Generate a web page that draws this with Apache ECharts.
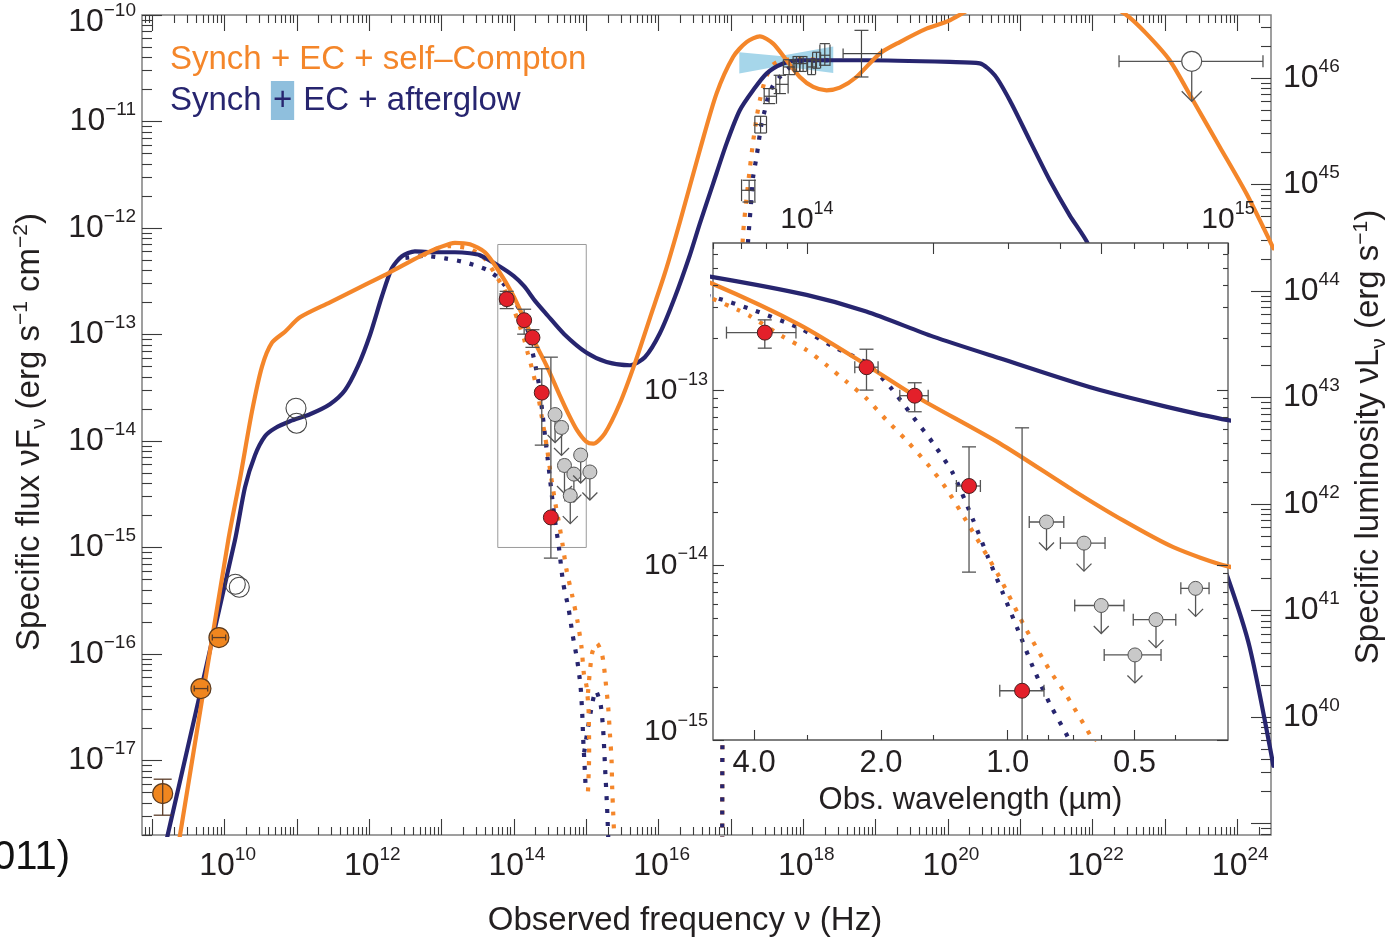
<!DOCTYPE html>
<html><head><meta charset="utf-8">
<script src="https://cdn.jsdelivr.net/npm/echarts@6/dist/echarts.min.js"></script>
<style>html,body{margin:0;padding:0;background:#fff}#c{width:1399px;height:937px}</style>
</head><body><div id="c"></div>
<script>
// ---------------- axis extents (log10 units) ----------------
const X_MIN = 8.858, X_MAX = 24.467;          // log10 observed frequency (Hz)
const Y_MIN = -17.70, Y_MAX = -10.0;          // log10 nu F_nu (erg s^-1 cm^-2)
const LOG_LUM_OFFSET = 56.592;                // log10(4 pi d_L^2): nuL_nu = 4 pi d_L^2 nuF_nu
const INSET_X_MIN = 13.777, INSET_X_MAX = 15.0;
const INSET_Y_MIN = -15.0, INSET_Y_MAX = -12.155;
const C_UM_HZ = 2.998e14;                     // c in micron Hz

// ---------------- tick labels ----------------
const MAIN_X_TICK_EXP = [9,10,11,12,13,14,15,16,17,18,19,20,21,22,23,24];
const MAIN_X_LABEL_EXP = [10,12,14,16,18,20,22,24];
const MAIN_Y_LABEL_EXP = [-17,-16,-15,-14,-13,-12,-11,-10];
const LUM_TICK_EXP = [39,40,41,42,43,44,45,46];
const LUM_LABEL_EXP = [40,41,42,43,44,45,46];
const INSET_Y_LABEL_EXP = [-15,-14,-13];
const INSET_TOP_LABEL_EXP = [14,15];
const INSET_TOP_MID_HZ = [2e14,5e14];
const WAVE_LABEL_UM = [4.0,2.0,1.0,0.5];
const WAVE_MINOR_UM = [3.0,1.5,0.9,0.8,0.7,0.6,0.4];

// ---------------- model curves [log nu, log nuFnu] ----------------
const ORANGE_TOTAL = [[9.30,-18.05],[9.383,-17.703],[10.051,-14.931],[10.213,-14.354],[10.378,-13.725],[10.517,-13.302],[10.655,-13.077],[10.835,-12.974],[11.042,-12.839],[11.457,-12.698],[11.871,-12.557],[12.286,-12.416],[12.700,-12.266],[12.977,-12.181],[13.184,-12.139],[13.391,-12.153],[13.599,-12.228],[13.777,-12.390],[13.983,-12.624],[14.141,-12.853],[14.260,-13.035],[14.458,-13.302],[14.632,-13.570],[14.751,-13.743],[14.870,-13.896],[15.0,-14.006],[15.097,-14.025],[15.257,-13.928],[15.465,-13.646],[15.672,-13.271],[15.879,-12.848],[16.087,-12.425],[16.294,-11.946],[16.570,-11.270],[16.801,-10.738],[17.030,-10.394],[17.216,-10.254],[17.400,-10.200],[17.584,-10.269],[17.769,-10.425],[17.953,-10.582],[18.137,-10.676],[18.322,-10.707],[18.506,-10.682],[18.736,-10.582],[19.058,-10.362],[19.335,-10.254],[19.704,-10.128],[20.026,-10.050],[20.579,-9.843],[21.131,-9.751],[21.684,-9.789],[22.168,-9.892],[22.468,-10.0],[22.744,-10.175],[23.066,-10.425],[23.388,-10.801],[23.759,-11.239],[24.127,-11.677],[24.50,-12.19]];
const NAVY_TOTAL = [[9.10,-18.04],[9.213,-17.70],[10.143,-14.932],[10.282,-14.434],[10.420,-14.134],[10.558,-13.956],[10.696,-13.881],[10.904,-13.815],[11.180,-13.749],[11.456,-13.655],[11.664,-13.524],[11.843,-13.298],[12.009,-13.007],[12.175,-12.641],[12.313,-12.378],[12.452,-12.265],[12.631,-12.219],[12.908,-12.228],[13.184,-12.228],[13.391,-12.237],[13.530,-12.256],[13.777,-12.350],[13.999,-12.452],[14.141,-12.547],[14.300,-12.691],[14.458,-12.815],[14.696,-12.997],[15.0,-13.169],[15.281,-13.258],[15.603,-13.289],[15.810,-13.214],[16.018,-12.989],[16.225,-12.651],[16.432,-12.256],[16.570,-11.959],[16.754,-11.583],[16.939,-11.208],[17.123,-10.895],[17.307,-10.707],[17.492,-10.550],[17.722,-10.456],[17.953,-10.425],[18.875,-10.425],[20.026,-10.441],[20.440,-10.454],[20.648,-10.566],[20.855,-10.801],[21.131,-11.177],[21.408,-11.552],[21.684,-11.881],[21.933,-12.144],[22.790,-13.430],[23.343,-14.322],[23.868,-15.280],[24.172,-15.937],[24.50,-17.05]];
const NAVY_SYNCH = [[12.50,-12.28],[12.770,-12.262],[13.046,-12.285],[13.322,-12.322],[13.622,-12.391],[13.777,-12.465],[13.872,-12.538],[13.983,-12.643],[14.062,-12.748],[14.141,-12.843],[14.197,-12.978],[14.252,-13.150],[14.300,-13.302],[14.347,-13.475],[14.395,-13.742],[14.430,-13.953],[14.466,-14.163],[14.502,-14.374],[14.537,-14.584],[14.577,-14.794],[14.620,-14.986],[14.681,-15.333],[14.756,-15.577],[14.811,-15.818],[14.875,-16.059],[14.921,-16.303],[14.944,-16.554],[14.958,-16.801],[14.977,-17.048],[14.995,-17.296]];
const NAVY_SYNCH_B = [[14.971,-16.924],[15.06,-16.55],[15.133,-16.347],[15.198,-16.472],[15.234,-16.716],[15.262,-17.092],[15.289,-17.455],[15.305,-17.75]];
const NAVY_EC = [[16.880,-17.75],[16.883,-16.810],[16.957,-15.496],[17.068,-13.805],[17.178,-12.678],[17.238,-12.115],[17.285,-11.709],[17.307,-11.521],[17.354,-11.333],[17.423,-11.020],[17.469,-10.895],[17.515,-10.770],[17.584,-10.660],[17.676,-10.582],[17.791,-10.503],[17.907,-10.456],[18.045,-10.432],[18.368,-10.425]];
const ORANGE_SYNCH = [[12.75,-12.26],[12.839,-12.215],[13.115,-12.170],[13.391,-12.195],[13.599,-12.290],[13.777,-12.475],[13.836,-12.538],[13.864,-12.572],[13.943,-12.691],[13.999,-12.767],[14.046,-12.853],[14.094,-12.949],[14.141,-13.044],[14.189,-13.169],[14.236,-13.284],[14.292,-13.437],[14.330,-13.557],[14.379,-13.748],[14.456,-14.062],[14.515,-14.341],[14.577,-14.603],[14.613,-14.731],[14.676,-14.986],[14.728,-15.214],[14.806,-15.452],[14.880,-15.696],[14.935,-15.940],[14.967,-16.184],[15.004,-16.303],[15.030,-16.50],[15.036,-16.622],[15.040,-16.942],[15.023,-17.308]];
const ORANGE_SYNCH_B = [[15.024,-16.366],[15.080,-15.996],[15.147,-15.900],[15.220,-16.009],[15.267,-16.254],[15.303,-16.498],[15.327,-16.747],[15.350,-16.998],[15.358,-17.242],[15.372,-17.484],[15.389,-17.75]];
const ORANGE_EC = [[16.880,-17.75],[16.883,-16.810],[16.930,-15.496],[17.027,-13.805],[17.124,-12.678],[17.169,-12.053],[17.216,-11.72],[17.262,-11.44],[17.307,-11.19],[17.354,-10.97],[17.400,-10.80],[17.469,-10.62],[17.561,-10.48],[17.676,-10.43],[17.814,-10.419],[18.022,-10.416],[18.368,-10.425]];

// ---------------- X-ray spectral band (bow-tie) ----------------
const BOWTIE_LOGNU = [17.116,17.678,18.415];
const BOWTIE_LOGF_HI = [-10.350,-10.385,-10.295];
const BOWTIE_LOGF_LO = [-10.550,-10.480,-10.545];

// ---------------- data points ----------------
const NIR_LOGNU    = [13.900,14.1415,14.256,14.385,14.511];
const NIR_LOGF     = [-12.668,-12.866,-13.029,-13.546,-14.718];
const NIR_LOGNU_LO = [13.809,14.1137,14.2206,14.355,14.458];
const NIR_LOGNU_HI = [13.974,14.169,14.288,14.412,14.563];
const NIR_LOGF_LO  = [-12.757,-12.997,-13.121,-14.039,-15.10];
const NIR_LOGF_HI  = [-12.595,-12.763,-12.955,-13.322,-13.213];

const OPT_UL_LOGNU    = [14.569,14.658,14.699,14.829,14.779,14.923,15.05];
const OPT_UL_LOGF     = [-13.752,-13.873,-14.230,-14.311,-14.513,-14.132,-14.291];
const OPT_UL_LOGNU_LO = [14.528,14.602,14.636,14.775,14.706,14.888,15.00];
const OPT_UL_LOGNU_HI = [14.610,14.708,14.753,14.876,14.841,14.955,15.10];

const RADIO_LOGNU    = [9.144,9.673,9.922];
const RADIO_LOGF     = [-17.311,-16.325,-15.846];
const RADIO_LOGNU_LO = [9.144,9.58,9.83];
const RADIO_LOGNU_HI = [9.144,9.766,10.015];
const RADIO_LOGF_LO  = [-17.514,-16.325,-15.846];
const RADIO_LOGF_HI  = [-17.176,-16.325,-15.846];

const OPEN_LOGNU = [10.148,10.203,10.987,10.995];
const OPEN_LOGF  = [-15.345,-15.374,-13.693,-13.833];

const GAMMA_UL_LOGNU = [23.371], GAMMA_UL_LOGF = [-10.435], GAMMA_UL_LOGNU_LO = [22.366], GAMMA_UL_LOGNU_HI = [24.356];

const XRAY_LOGNU    = [17.252,17.410,17.528,17.676,17.805,17.907,17.998,18.114,18.183,18.298];
const XRAY_LOGF     = [-11.646,-11.029,-10.763,-10.651,-10.488,-10.456,-10.456,-10.488,-10.425,-10.378];
const XRAY_LOGNU_LO = [17.147,17.331,17.46,17.621,17.725,17.86,17.95,18.06,18.13,18.23];
const XRAY_LOGNU_HI = [17.331,17.492,17.63,17.791,17.885,17.955,18.05,18.17,18.24,18.37];
const XRAY_LOGF_LO  = [-11.756,-11.108,-10.832,-10.738,-10.56,-10.53,-10.53,-10.56,-10.50,-10.472];
const XRAY_LOGF_HI  = [-11.552,-10.951,-10.691,-10.566,-10.42,-10.39,-10.39,-10.42,-10.35,-10.269];

const HARDX_LOGNU = [18.805], HARDX_LOGF = [-10.362], HARDX_LOGNU_LO = [18.551], HARDX_LOGNU_HI = [19.082], HARDX_LOGF_LO = [-10.582], HARDX_LOGF_HI = [-10.144];

// ---------------- styling ----------------
const FONT = '"Liberation Sans", Arial, Helvetica, sans-serif';
const TXT = '#231f20';
const ORANGE = '#f4862a';
const NAVY = '#27256f';
const RED = '#e3202a';
const GRAY = '#c9c9c9';
const TICK = '#3a3a3a';

function minorVals(nFrom, nTo, lo, hi) {
  const out = [];
  for (let n = nFrom; n <= nTo; n++) for (let k = 2; k <= 9; k++) {
    const v = n + Math.log10(k);
    if (v > lo + 1e-6 && v < hi - 1e-6) out.push(v);
  }
  return out;
}
function rows(...cols) { return cols[0].map((_, i) => cols.map(c => c[i])); }
function expRich(bs, ss, pw, raise) {
  const sp = Math.round(ss * 0.95);
  const r = raise || 0;
  return {
    b: {fontFamily: FONT, fontSize: bs, lineHeight: bs, color: TXT, verticalAlign: 'bottom'},
    s: {fontFamily: FONT, fontSize: ss, lineHeight: ss, color: TXT, verticalAlign: 'bottom', padding: [0,0,sp,0]},
    p: {fontFamily: FONT, fontSize: ss, lineHeight: ss, width: pw, verticalAlign: 'bottom'},
    z: {fontFamily: FONT, fontSize: 4, lineHeight: 14},
    b2: {fontFamily: FONT, fontSize: bs, lineHeight: bs, color: TXT, verticalAlign: 'bottom', padding: [0,0,r,0]},
    s2: {fontFamily: FONT, fontSize: ss, lineHeight: ss, color: TXT, verticalAlign: 'bottom', padding: [0,0,r + sp,0]}
  };
}
const expStr = e => (e < 0 ? '\u2212' + Math.abs(e) : String(e));

function tickAxis(o) {
  const a = {
    gridIndex: o.grid, type: 'value', position: o.pos, min: o.min, max: o.max, z: o.z || 0,
    axisLine: {show: false, onZero: false}, splitLine: {show: false},
    axisTick: {show: true, inside: true, length: o.len, lineStyle: {color: TICK, width: 1.1}, customValues: o.ticks},
    axisLabel: {show: false}
  };
  if (o.labels) a.axisLabel = Object.assign({show: true, customValues: o.labels}, o.labelCfg);
  if (o.name) Object.assign(a, o.name);
  return a;
}

const mainXLabel = {margin: 15, formatter: v => '{p| }{b|10}{s|' + expStr(Math.round(v)) + '}', rich: expRich(32, 19, 6)};
// the top label (10^-10) sits a little lower than its tick (a spacer line above it)
const mainYLabel = {margin: 6, formatter: v => { const e = Math.round(v); return (e === -10 ? '{z| }\n' : '') + '{b|10}{s|' + expStr(e) + '}'; }, rich: expRich(32, 19, 0)};
const lumLabel = {margin: 12, formatter: v => '{b|10}{s|' + expStr(Math.round(v)) + '}', rich: expRich(32, 19, 0)};
const insetYLabel = {margin: 5, formatter: v => { const e = Math.round(v); return e === -15 ? '{b2|10}{s2|' + expStr(e) + '}' : '{b|10}{s|' + expStr(e) + '}'; }, rich: expRich(30, 18, 0, 8)};
const insetTopLabel = {margin: 8, formatter: v => '{b|10}{s|' + expStr(Math.round(v)) + '}', rich: expRich(30, 18, 0)};
const waveLabel = {margin: 8, fontFamily: FONT, fontSize: 31, color: TXT, formatter: v => (C_UM_HZ / Math.pow(10, v)).toFixed(1)};

const titleRich = {
  t: {fontFamily: FONT, fontSize: 33, lineHeight: 33, color: TXT, verticalAlign: 'bottom', padding: [0,0,4,0]},
  u: {fontFamily: FONT, fontSize: 21, lineHeight: 21, color: TXT, verticalAlign: 'bottom'},
  e: {fontFamily: FONT, fontSize: 21, lineHeight: 21, color: TXT, verticalAlign: 'bottom', padding: [0,0,18,0]}
};

const xAxes = [
  tickAxis({grid: 0, pos: 'bottom', min: X_MIN, max: X_MAX, len: 16, ticks: MAIN_X_TICK_EXP, labels: MAIN_X_LABEL_EXP, labelCfg: mainXLabel,
    name: {name: 'Observed frequency \u03bd (Hz)', nameLocation: 'middle', nameGap: 69, nameTextStyle: {fontFamily: FONT, fontSize: 33, color: TXT, padding: [0,43,0,0]}}}),
  tickAxis({grid: 0, pos: 'bottom', min: X_MIN, max: X_MAX, len: 8, ticks: minorVals(8, 24, X_MIN, X_MAX)}),
  tickAxis({grid: 0, pos: 'top', min: X_MIN, max: X_MAX, len: 16, ticks: MAIN_X_TICK_EXP}),
  tickAxis({grid: 0, pos: 'top', min: X_MIN, max: X_MAX, len: 8, ticks: minorVals(8, 24, X_MIN, X_MAX)}),
  tickAxis({grid: 1, pos: 'bottom', min: INSET_X_MIN, max: INSET_X_MAX, len: 10, z: 7, ticks: WAVE_LABEL_UM.map(l => Math.log10(C_UM_HZ / l)), labels: WAVE_LABEL_UM.map(l => Math.log10(C_UM_HZ / l)), labelCfg: waveLabel,
    name: {name: 'Obs. wavelength (\u00b5m)', nameLocation: 'middle', nameGap: 45, nameTextStyle: {fontFamily: FONT, fontSize: 31, color: TXT}}}),
  tickAxis({grid: 1, pos: 'bottom', min: INSET_X_MIN, max: INSET_X_MAX, len: 5, z: 7, ticks: WAVE_MINOR_UM.map(l => Math.log10(C_UM_HZ / l))}),
  tickAxis({grid: 1, pos: 'top', min: INSET_X_MIN, max: INSET_X_MAX, len: 11, z: 7, ticks: INSET_TOP_LABEL_EXP.concat(INSET_TOP_MID_HZ.map(Math.log10)), labels: INSET_TOP_LABEL_EXP, labelCfg: insetTopLabel}),
  tickAxis({grid: 1, pos: 'top', min: INSET_X_MIN, max: INSET_X_MAX, len: 6, z: 7, ticks: minorVals(13, 14, INSET_X_MIN, INSET_X_MAX).filter(v => !INSET_TOP_MID_HZ.some(h => Math.abs(Math.log10(h) - v) < 1e-6))})
];
const yAxes = [
  tickAxis({grid: 0, pos: 'left', min: Y_MIN, max: Y_MAX, len: 20, ticks: MAIN_Y_LABEL_EXP, labels: MAIN_Y_LABEL_EXP, labelCfg: mainYLabel,
    name: {name: '{t|Specific flux \u03bdF}{u|\u03bd}{t| (erg s}{e|\u22121}{t| cm}{e|\u22122}{t|)}', nameLocation: 'middle', nameGap: 92, nameRotate: 90, nameTextStyle: {rich: titleRich, padding: [0,14,0,0]}}}),
  tickAxis({grid: 0, pos: 'left', min: Y_MIN, max: Y_MAX, len: 10, ticks: minorVals(-18, -11, Y_MIN, Y_MAX)}),
  tickAxis({grid: 0, pos: 'right', min: Y_MIN + LOG_LUM_OFFSET, max: Y_MAX + LOG_LUM_OFFSET, len: 20, ticks: LUM_TICK_EXP, labels: LUM_LABEL_EXP, labelCfg: lumLabel,
    name: {name: '{t|Specific luminosity \u03bdL}{u|\u03bd}{t| (erg s}{e|\u22121}{t|)}', nameLocation: 'middle', nameGap: 79, nameRotate: 90, nameTextStyle: {rich: titleRich, padding: [0,24,0,0]}}}),
  tickAxis({grid: 0, pos: 'right', min: Y_MIN + LOG_LUM_OFFSET, max: Y_MAX + LOG_LUM_OFFSET, len: 10, ticks: minorVals(38, 46, Y_MIN + LOG_LUM_OFFSET, Y_MAX + LOG_LUM_OFFSET)}),
  tickAxis({grid: 1, pos: 'left', min: INSET_Y_MIN, max: INSET_Y_MAX, len: 11, z: 7, ticks: INSET_Y_LABEL_EXP, labels: INSET_Y_LABEL_EXP, labelCfg: insetYLabel}),
  tickAxis({grid: 1, pos: 'left', min: INSET_Y_MIN, max: INSET_Y_MAX, len: 5, z: 7, ticks: minorVals(-16, -13, INSET_Y_MIN, INSET_Y_MAX)}),
  tickAxis({grid: 1, pos: 'right', min: INSET_Y_MIN, max: INSET_Y_MAX, len: 11, z: 7, ticks: INSET_Y_LABEL_EXP}),
  tickAxis({grid: 1, pos: 'right', min: INSET_Y_MIN, max: INSET_Y_MAX, len: 5, z: 7, ticks: minorVals(-16, -13, INSET_Y_MIN, INSET_Y_MAX)})
];

function lineS(data, color, dotted, xi, yi, z) {
  return {type: 'line', data, xAxisIndex: xi, yAxisIndex: yi, z, symbol: 'none', showSymbol: false, smooth: 0.25, silent: true, clip: true,
    lineStyle: dotted ? {color, width: 4.2, type: [4, 9], cap: 'butt'} : {color, width: 4.2, cap: 'round', join: 'round'}};
}
function seg(a, b, st) { return {type: 'line', shape: {x1: a[0], y1: a[1], x2: b[0], y2: b[1]}, style: st}; }
// rows: [logNu, logF, logNuLo, logNuHi, logFLo, logFHi]
function pointS(data, st, xi, yi, z) {
  return {type: 'custom', coordinateSystem: 'cartesian2d', xAxisIndex: xi, yAxisIndex: yi, z, silent: true, clip: true,
    encode: {x: 0, y: 1}, data,
    renderItem: (params, api) => {
      const x = api.value(0), y = api.value(1);
      const c = api.coord([x, y]);
      const ls = {stroke: st.errColor || '#444', lineWidth: st.errWidth || 1.3, fill: null};
      const bars = [];
      const xl = api.value(2), xh = api.value(3), yl = api.value(4), yh = api.value(5);
      const pxL = api.coord([xl, y]), pxH = api.coord([xh, y]), pyL = api.coord([x, yl]), pyH = api.coord([x, yh]);
      // box-style caps: each cap spans the other error bar's extent
      const capX = st.box ? Math.abs(pyL[1] - pyH[1]) / 2 : st.capX;
      const capY = st.box ? Math.abs(pxH[0] - pxL[0]) / 2 : st.capY;
      if (xh > xl) {
        bars.push(seg(pxL, pxH, ls), seg([pxL[0], c[1] - capX], [pxL[0], c[1] + capX], ls), seg([pxH[0], c[1] - capX], [pxH[0], c[1] + capX], ls));
      }
      if (yh > yl) {
        bars.push(seg(pyL, pyH, ls), seg([c[0] - capY, pyL[1]], [c[0] + capY, pyL[1]], ls), seg([c[0] - capY, pyH[1]], [c[0] + capY, pyH[1]], ls));
      }
      const kids = [];
      if (st.arrow) {
        const L = st.arrow, h = st.head;
        kids.push(seg(c, [c[0], c[1] + L], ls));
        kids.push({type: 'polyline', shape: {points: [[c[0] - h, c[1] + L - h], [c[0], c[1] + L], [c[0] + h, c[1] + L - h]]}, style: {stroke: ls.stroke, lineWidth: ls.lineWidth, fill: null}});
      }
      const circ = st.r ? [{type: 'circle', shape: {cx: c[0], cy: c[1], r: st.r}, style: {fill: st.fill, stroke: st.stroke, lineWidth: st.lw || 1}}] : [];
      const children = st.errOnTop ? kids.concat(circ, bars) : bars.concat(kids, circ);
      return {type: 'group', children};
    }};
}

const nirRows = rows(NIR_LOGNU, NIR_LOGF, NIR_LOGNU_LO, NIR_LOGNU_HI, NIR_LOGF_LO, NIR_LOGF_HI);
const ulRows = rows(OPT_UL_LOGNU, OPT_UL_LOGF, OPT_UL_LOGNU_LO, OPT_UL_LOGNU_HI, OPT_UL_LOGF, OPT_UL_LOGF);
const radioRows = rows(RADIO_LOGNU, RADIO_LOGF, RADIO_LOGNU_LO, RADIO_LOGNU_HI, RADIO_LOGF_LO, RADIO_LOGF_HI);
const openRows = rows(OPEN_LOGNU, OPEN_LOGF, OPEN_LOGNU, OPEN_LOGNU, OPEN_LOGF, OPEN_LOGF);
const gammaRows = rows(GAMMA_UL_LOGNU, GAMMA_UL_LOGF, GAMMA_UL_LOGNU_LO, GAMMA_UL_LOGNU_HI, GAMMA_UL_LOGF, GAMMA_UL_LOGF);
const xrayRows = rows(XRAY_LOGNU, XRAY_LOGF, XRAY_LOGNU_LO, XRAY_LOGNU_HI, XRAY_LOGF_LO, XRAY_LOGF_HI);
const hardxRows = rows(HARDX_LOGNU, HARDX_LOGF, HARDX_LOGNU_LO, HARDX_LOGNU_HI, HARDX_LOGF_LO, HARDX_LOGF_HI);

const NIR_ST = {r: 7.5, fill: RED, stroke: '#4a2020', lw: 1, capX: 6, capY: 7, errColor: '#555', errWidth: 1.3};
const UL_ST = {r: 7, fill: GRAY, stroke: '#555', lw: 1, capX: 6, capY: 6, errColor: '#555', errWidth: 1.3, arrow: 28, head: 7.5};

const series = [
  // ----- main panel -----
  {type: 'custom', coordinateSystem: 'cartesian2d', xAxisIndex: 0, yAxisIndex: 0, z: 2, silent: true,
    data: [0], renderItem: (params, api) => {
      const up = BOWTIE_LOGNU.map((v, i) => api.coord([v, BOWTIE_LOGF_HI[i]]));
      const lo = BOWTIE_LOGNU.map((v, i) => api.coord([v, BOWTIE_LOGF_LO[i]])).reverse();
      return {type: 'polygon', shape: {points: up.concat(lo)}, style: {fill: '#a6d6ea', stroke: null}};
    }},
  lineS(NAVY_SYNCH, NAVY, true, 0, 0, 2),
  lineS(NAVY_SYNCH_B, NAVY, true, 0, 0, 2),
  lineS(ORANGE_SYNCH, ORANGE, true, 0, 0, 2),
  lineS(ORANGE_SYNCH_B, ORANGE, true, 0, 0, 2),
  lineS(ORANGE_EC, ORANGE, true, 0, 0, 2),
  lineS(NAVY_EC, NAVY, true, 0, 0, 2),
  lineS(NAVY_TOTAL, NAVY, false, 0, 0, 2),
  lineS(ORANGE_TOTAL, ORANGE, false, 0, 0, 2),
  {type: 'custom', coordinateSystem: 'cartesian2d', xAxisIndex: 0, yAxisIndex: 0, z: 2, silent: true,
    data: [[INSET_X_MIN, INSET_Y_MIN, INSET_X_MAX, INSET_Y_MAX]], renderItem: (params, api) => {
      const p0 = api.coord([api.value(0), api.value(3)]), p1 = api.coord([api.value(2), api.value(1)]);
      return {type: 'rect', shape: {x: p0[0], y: p0[1], width: p1[0] - p0[0], height: p1[1] - p0[1]}, style: {fill: null, stroke: '#9a9a9a', lineWidth: 1}};
    }},
  pointS(xrayRows, {box: true, errColor: '#444', errWidth: 1.2}, 0, 0, 3),
  pointS(hardxRows, {capX: 5, capY: 7, errColor: '#444', errWidth: 1.2}, 0, 0, 3),
  pointS(radioRows, {r: 10, fill: '#f0861f', stroke: '#5b3a1e', lw: 1.2, capX: 3, capY: 9, errColor: '#5a3c28', errWidth: 1.3, errOnTop: true}, 0, 0, 3),
  pointS(openRows, {r: 10, fill: 'rgba(0,0,0,0)', stroke: '#444', lw: 1.1, capX: 0, capY: 0}, 0, 0, 3),
  pointS(gammaRows, {r: 10, fill: '#fff', stroke: '#555', lw: 1.2, capX: 6, capY: 0, errColor: '#555', errWidth: 1.3, arrow: 40, head: 10}, 0, 0, 3),
  pointS(nirRows, NIR_ST, 0, 0, 3),
  pointS(ulRows, UL_ST, 0, 0, 3),
  // ----- inset panel -----
  {type: 'custom', coordinateSystem: 'cartesian2d', xAxisIndex: 4, yAxisIndex: 4, z: 4, silent: true,
    data: [[INSET_X_MIN, INSET_Y_MIN, INSET_X_MAX, INSET_Y_MAX]], renderItem: (params, api) => {
      const p0 = api.coord([api.value(0), api.value(3)]), p1 = api.coord([api.value(2), api.value(1)]);
      return {type: 'rect', shape: {x: p0[0], y: p0[1], width: p1[0] - p0[0], height: p1[1] - p0[1]}, style: {fill: '#fff', stroke: '#555', lineWidth: 1.3}};
    }},
  lineS(NAVY_SYNCH, NAVY, true, 4, 4, 5),
  lineS(ORANGE_SYNCH, ORANGE, true, 4, 4, 5),
  lineS(NAVY_TOTAL, NAVY, false, 4, 4, 5),
  lineS(ORANGE_TOTAL, ORANGE, false, 4, 4, 5),
  pointS(nirRows, NIR_ST, 4, 4, 6),
  pointS(ulRows.filter(r => r[0] < INSET_X_MAX), UL_ST, 4, 4, 6)
];

const chart = echarts.init(document.getElementById('c'), null, {renderer: 'canvas', width: 1399, height: 937});
chart.setOption({
  animation: false,
  backgroundColor: '#fff',
  grid: [
    {left: 142, top: 15, width: 1129, height: 820, containLabel: false, outerBoundsMode: 'none', show: true, borderColor: '#808080', borderWidth: 1.5, backgroundColor: 'rgba(0,0,0,0)'},
    {left: 713, top: 243, width: 515, height: 497, containLabel: false, outerBoundsMode: 'none', show: false}
  ],
  xAxis: xAxes,
  yAxis: yAxes,
  series,
  graphic: [
    {type: 'text', left: 170, top: 43, z: 100, style: {text: 'Synch + EC + self\u2013Compton', fill: ORANGE, font: '33px ' + FONT}},
    {type: 'text', left: 170, top: 81, z: 100, style: {text: '{a|Synch }{h|+}{a| EC + afterglow}', rich: {
      a: {fill: NAVY, fontSize: 33, fontFamily: FONT, lineHeight: 36},
      h: {fill: NAVY, fontSize: 33, fontFamily: FONT, lineHeight: 30, backgroundColor: '#8fbfdd', padding: [3, 2, 3, 2]}
    }}},
    {type: 'text', left: -7, top: 838, z: 100, style: {text: '011)', fill: '#111', font: '40px ' + FONT}}
  ]
});
</script>
</body></html>
